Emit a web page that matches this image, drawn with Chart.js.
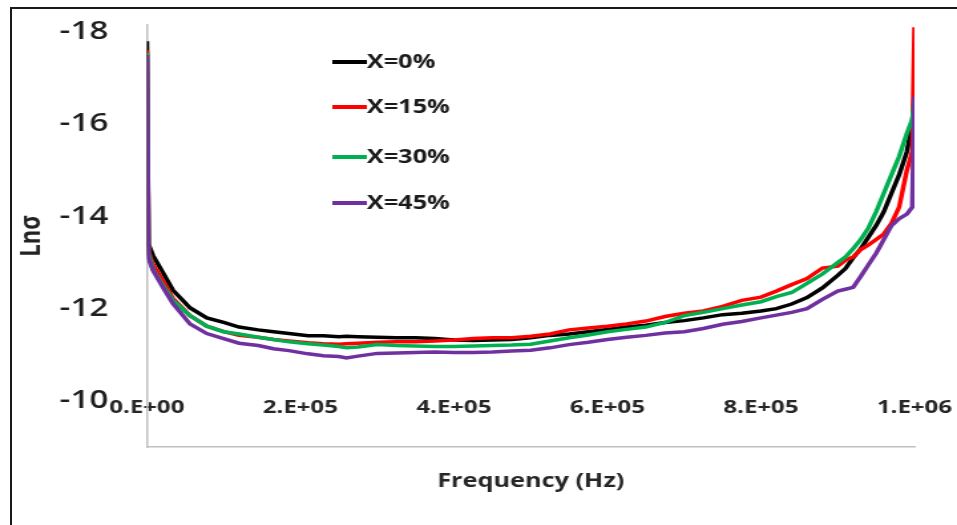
<!DOCTYPE html>
<html>
<head>
<meta charset="utf-8">
<script src="https://cdn.jsdelivr.net/npm/chart.js@4.4.1/dist/chart.umd.min.js"></script>
<style>
  body { margin: 0; background: #fff; overflow: hidden; }
  #frame { position: absolute; left: 10px; top: 7px; width: 1000px; height: 600px; border: 2px solid #1a1a1a; box-sizing: border-box; }
  /* the original picture is stretched sideways, so the chart is drawn narrower and widened */
  #plot { position: absolute; left: 0; top: 0; width: 720px; height: 525px; transform: scaleX(1.3292); transform-origin: 0 0; }
</style>
</head>
<body>
<div id="frame"></div>
<div id="plot">
  <canvas id="condChart"></canvas>
</div>
<script>
// frequency (Hz), shared by all four samples
const freq = [0, 2e3, 8e3, 2.1e4, 3.4e4, 5.6e4, 7.8e4, 1e5, 1.2e5, 1.45e5, 1.65e5, 1.85e5,
  2.1e5, 2.3e5, 2.5e5, 2.6e5, 2.75e5, 3e5, 3.25e5, 3.5e5, 3.75e5, 4e5, 4.25e5, 4.5e5, 4.75e5,
  5e5, 5.25e5, 5.5e5, 5.75e5, 6e5, 6.25e5, 6.5e5, 6.75e5, 7e5, 7.25e5, 7.5e5, 7.75e5, 8e5,
  8.2e5, 8.4e5, 8.6e5, 8.8e5, 9e5, 9.1e5, 9.2e5, 9.3e5, 9.4e5, 9.5e5, 9.6e5, 9.7e5, 9.8e5,
  9.9e5, 9.97e5, 1e6];

const lnX0 = [-17.8, -13.4, -13.15, -12.78, -12.4, -12.02, -11.8, -11.7, -11.6, -11.54, -11.5, -11.46,
  -11.41, -11.41, -11.39, -11.4, -11.39, -11.38, -11.37, -11.37, -11.35, -11.32, -11.31, -11.32, -11.33,
  -11.37, -11.42, -11.45, -11.5, -11.55, -11.6, -11.64, -11.7, -11.74, -11.8, -11.87, -11.9, -11.95,
  -12.0, -12.1, -12.24, -12.45, -12.72, -12.87, -13.1, -13.3, -13.55, -13.8, -14.1, -14.5, -14.9,
  -15.4, -16.0, -16.6];

const lnX15 = [-17.6, -13.25, -12.95, -12.6, -12.22, -11.85, -11.62, -11.5, -11.42, -11.38, -11.33, -11.3,
  -11.26, -11.24, -11.23, -11.24, -11.25, -11.27, -11.28, -11.28, -11.3, -11.32, -11.35, -11.37, -11.37,
  -11.4, -11.45, -11.54, -11.58, -11.62, -11.67, -11.73, -11.83, -11.9, -11.95, -12.05, -12.18, -12.25,
  -12.38, -12.52, -12.65, -12.88, -12.92, -13.05, -13.12, -13.28, -13.38, -13.5, -13.62, -13.85, -14.2,
  -15.0, -15.4, -18.1];

const lnX30 = [-17.55, -13.2, -12.85, -12.5, -12.18, -11.85, -11.62, -11.5, -11.45, -11.38, -11.33, -11.28,
  -11.24, -11.21, -11.18, -11.15, -11.17, -11.22, -11.2, -11.19, -11.18, -11.18, -11.19, -11.2, -11.21,
  -11.23, -11.3, -11.37, -11.43, -11.5, -11.55, -11.6, -11.7, -11.85, -11.92, -12.0, -12.08, -12.15,
  -12.26, -12.35, -12.55, -12.75, -13.0, -13.12, -13.3, -13.5, -13.75, -14.1, -14.5, -14.9, -15.3,
  -15.8, -16.1, -16.5];

const lnX45 = [-17.5, -13.1, -12.83, -12.46, -12.11, -11.67, -11.46, -11.35, -11.25, -11.2, -11.13, -11.09,
  -11.02, -10.98, -10.96, -10.93, -10.97, -11.03, -11.04, -11.05, -11.06, -11.05, -11.05, -11.06, -11.08,
  -11.1, -11.15, -11.22, -11.27, -11.33, -11.38, -11.42, -11.47, -11.5, -11.57, -11.66, -11.72, -11.8,
  -11.86, -11.92, -12.0, -12.2, -12.38, -12.42, -12.46, -12.7, -12.95, -13.2, -13.5, -13.8, -13.95,
  -14.05, -14.2, -16.6];

const seriesNames = ["X=0%", "X=15%", "X=30%", "X=45%"];
const seriesColors = ["#000000", "#ff0000", "#00b050", "#7030a0"];
const yTicks = [-18, -16, -14, -12, -10];
const xTicks = [0, 2e5, 4e5, 6e5, 8e5, 1e6];
const xTickLabels = ["0.E+00", "2.E+05", "4.E+05", "6.E+05", "8.E+05", "1.E+06"];

const allSeries = [lnX0, lnX15, lnX30, lnX45];

const datasets = allSeries.map((vals, i) => ({
    label: seriesNames[i],
    data: vals.map((v, j) => ({ x: freq[j], y: v })),
    borderColor: seriesColors[i],
    backgroundColor: seriesColors[i],
    borderWidth: 3.5,
    pointRadius: 0,
    tension: 0,
    order: 4 - i, // later samples drawn on top, as in the original
}));

// legend drawn inside the plot, like the original
const insideLegend = {
    id: "insideLegend",
    afterDraw(chart) {
        const ctx = chart.ctx;
        ctx.save();
        ctx.font = "bold 19px 'Open Sans'";
        ctx.textBaseline = "middle";
        const rows = [62, 107, 157, 203];
        seriesNames.forEach((name, i) => {
            ctx.strokeStyle = seriesColors[i];
            ctx.lineWidth = 4;
            ctx.beginPath();
            ctx.moveTo(250, rows[i]);
            ctx.lineTo(276, rows[i]);
            ctx.stroke();
            ctx.fillStyle = "#1a1a1a";
            ctx.fillText(name, 276, rows[i] + 1);
        });
        ctx.restore();
    },
};

new Chart(document.getElementById("condChart"), {
    type: "line",
    data: { datasets: datasets },
    options: {
        responsive: true,
        maintainAspectRatio: false,
        animation: false,
        layout: { padding: { left: 11, top: 25, right: 32, bottom: 0 } },
        plugins: { legend: { display: false }, tooltip: { enabled: false } },
        scales: {
            x: {
                type: "linear",
                min: 0,
                max: 1e6,
                afterBuildTicks: (s) => { s.ticks = xTicks.map((v) => ({ value: v })); },
                afterFit: (s) => { s.height = 78; s.paddingLeft = 0; s.paddingRight = 0; },
                grid: { display: false, drawTicks: false },
                border: { display: true, color: "#c0c0c0", width: 1.5 },
                ticks: {
                    autoSkip: false,
                    maxRotation: 0,
                    mirror: true,
                    padding: 28,
                    color: "#262626",
                    font: { family: "'Open Sans'", size: 18, weight: "bold" },
                    callback: (v, i) => xTickLabels[i],
                },
                title: {
                    display: true,
                    text: "Frequency (Hz)",
                    color: "#262626",
                    font: { family: "'Open Sans'", size: 19, weight: "bold" },
                    padding: { top: 0, bottom: 32 },
                },
            },
            y: {
                type: "linear",
                reverse: true,
                min: -18.15,
                max: -9.0,
                afterBuildTicks: (s) => { s.ticks = yTicks.map((v) => ({ value: v })); },
                afterFit: (s) => { s.width = 99.5; s.paddingTop = 0; s.paddingBottom = 0; },
                grid: { display: false, drawTicks: false },
                border: { display: true, color: "#c0c0c0", width: 1.5 },
                ticks: {
                    padding: 29,
                    color: "#1e1e1e",
                    font: { family: "'Open Sans'", size: 25, weight: "600" },
                },
                title: {
                    display: true,
                    text: "Lnσ",
                    color: "#222222",
                    font: { family: "'Open Sans'", size: 22, weight: "bold" },
                    padding: { top: 0, bottom: 0 },
                },
            },
        },
    },
    plugins: [insideLegend],
});
</script>
</body>
</html>
